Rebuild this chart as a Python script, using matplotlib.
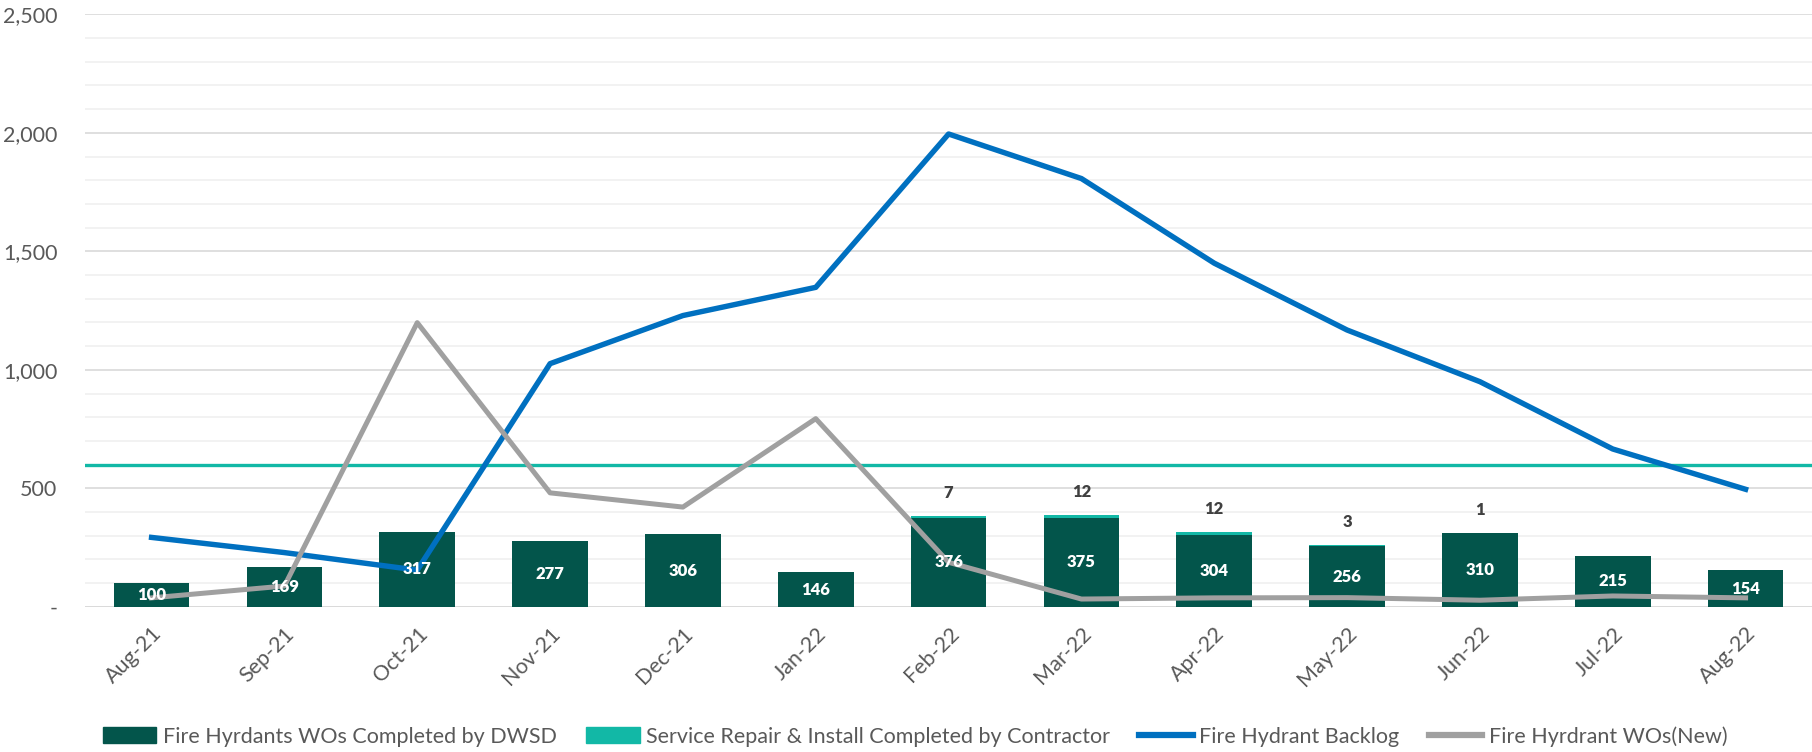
import numpy as np
import matplotlib.pyplot as plt
from matplotlib.patches import Patch
from matplotlib.lines import Line2D
from matplotlib.ticker import FuncFormatter, MultipleLocator

# monthly figures
months = ['Aug-21', 'Sep-21', 'Oct-21', 'Nov-21', 'Dec-21', 'Jan-22', 'Feb-22',
          'Mar-22', 'Apr-22', 'May-22', 'Jun-22', 'Jul-22', 'Aug-22']
dwsd_completed = [100, 169, 317, 277, 306, 146, 376, 375, 304, 256, 310, 215, 154]
contractor_completed = [0, 0, 0, 0, 0, 0, 7, 12, 12, 3, 1, 0, 0]
backlog = [293, 229, 155, 1026, 1229, 1348, 1995, 1807, 1450, 1168, 950, 666, 496]
new_wos = [38, 88, 1199, 481, 421, 794, 188, 33, 38, 39, 28, 46, 38]
target = 600

c_dwsd = '#03554B'
c_contr = '#12B8A6'
c_backlog = '#0070C0'
c_new = '#A0A0A0'
c_text = '#595959'

plt.rcParams['font.family'] = ['Lato', 'DejaVu Sans']

fig = plt.figure(figsize=(18.12, 7.52), dpi=100)
ax = fig.add_axes([0.047, 0.193, 0.953, 0.788])

x = np.arange(len(months))
w = 0.57

ax.bar(x, dwsd_completed, width=w, color=c_dwsd, zorder=2)
ax.bar(x, contractor_completed, width=w, bottom=dwsd_completed, color=c_contr, zorder=2)

ax.axhline(target, color=c_contr, lw=2.4, zorder=3)

ax.plot(x, backlog, color=c_backlog, lw=3.9, solid_joinstyle='round', zorder=4)
ax.plot(x, new_wos, color=c_new, lw=3.6, solid_joinstyle='round', zorder=4)

# value labels
for xi, v in zip(x, dwsd_completed):
    ax.text(xi, v / 2, str(v), ha='center', va='center', color='white',
            fontsize=12, fontweight='heavy', zorder=6)
for xi, v, c in zip(x, dwsd_completed, contractor_completed):
    if c > 0:
        ax.annotate(str(c), (xi, v + c), xytext=(0, 11), textcoords='offset points',
                    ha='center', va='bottom', color='#404040',
                    fontsize=12, fontweight='heavy', zorder=6)

ax.set_xlim(-0.5, len(months) - 0.5)
ax.set_ylim(0, 2500)
ax.yaxis.set_major_locator(MultipleLocator(500))
ax.yaxis.set_minor_locator(MultipleLocator(100))
ax.yaxis.set_major_formatter(FuncFormatter(lambda v, p: '-' if v == 0 else f'{v:,.0f}'))
ax.grid(axis='y', which='major', color='#D9D9D9', lw=1.2, zorder=0)
ax.grid(axis='y', which='minor', color='#F0F0F0', lw=1.2, zorder=0)
ax.set_axisbelow(True)

ax.set_xticks(x)
ax.set_xticklabels(months, rotation=45, ha='right', rotation_mode='anchor')
ax.tick_params(axis='both', which='both', length=0, colors=c_text, labelsize=15.5)
ax.tick_params(axis='y', pad=20)
ax.tick_params(axis='x', pad=12)
for s in ax.spines.values():
    s.set_visible(False)
ax.axhline(0, color='#D9D9D9', lw=1.2, zorder=1)

handles = [
    Patch(color=c_dwsd, label='Fire Hyrdants WOs Completed by DWSD'),
    Patch(color=c_contr, label='Service Repair & Install Completed by Contractor'),
    Line2D([], [], color=c_backlog, lw=4.5, label='Fire Hydrant Backlog'),
    Line2D([], [], color=c_new, lw=4.5, label='Fire Hyrdrant WOs(New)'),
]
fig.legend(handles=handles, loc='center', bbox_to_anchor=(0.505, 0.021), ncol=4,
           frameon=False, fontsize=15.5, labelcolor=c_text, handlelength=2.5,
           handletextpad=0.3, columnspacing=1.35, borderpad=0)

fig.savefig('out.png', dpi=100)
